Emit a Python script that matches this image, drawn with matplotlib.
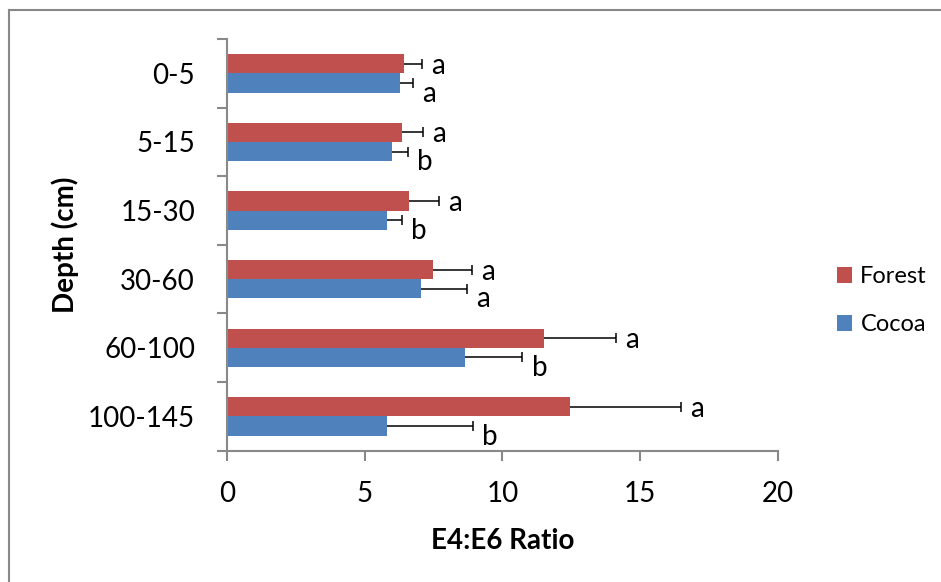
import matplotlib
matplotlib.use('Agg')
import matplotlib.pyplot as plt
import numpy as np
from matplotlib.lines import Line2D
from matplotlib.ticker import FixedLocator

# ---- data ----
depths = ['0-5', '5-15', '15-30', '30-60', '60-100', '100-145']
forest = [6.45, 6.37, 6.63, 7.49, 11.51, 12.46]
forest_err = [0.64, 0.75, 1.08, 1.42, 2.63, 4.02]
cocoa = [6.28, 6.00, 5.83, 7.05, 8.63, 5.82]
cocoa_err = [0.49, 0.56, 0.53, 1.67, 2.10, 3.10]
forest_sig = ['a', 'a', 'a', 'a', 'a', 'a']
cocoa_sig = ['a', 'b', 'b', 'a', 'b', 'b']
xticks = [0, 5, 10, 15, 20]

plt.rcParams['font.family'] = ['Lato', 'DejaVu Sans']

W, H = 941, 582
fig = plt.figure(figsize=(W / 100, H / 100), dpi=100)
ax = fig.add_axes([226.7 / W, 1 - 450.7 / H, (778 - 226.7) / W, 411.7 / H])

FOREST_C = '#C0504D'
COCOA_C = '#4F81BD'
GRAY = '#898989'

y = np.arange(len(depths))
h = 0.28
yf = y - h / 2
yc = y + h / 2
ax.barh(yf, forest, height=h, color=FOREST_C, label='Forest')
ax.barh(yc, cocoa, height=h, color=COCOA_C, label='Cocoa')

# plus-direction error bars
for yy, vals, errs in [(yf, forest, forest_err), (yc, cocoa, cocoa_err)]:
    ends = np.array(vals) + np.array(errs)
    ax.hlines(yy, vals, ends, color='black', lw=1.1, zorder=3)
    ax.plot(ends, yy, ls='none', marker='|', ms=7.2, mew=1.1, color='black', zorder=3)

# significance letters
for yy, vals, errs, sig, dy in [(yf, forest, forest_err, forest_sig, -7.2),
                                (yc, cocoa, cocoa_err, cocoa_sig, -13.4)]:
    for yi, v, e, s in zip(yy, vals, errs, sig):
        ax.annotate(s, (v + e, yi), xytext=(6.5, dy), textcoords='offset points',
                    ha='left', va='baseline', fontsize=20, color='black')

ax.set_xlim(0, 20)
ax.set_ylim(len(depths) - 0.5, -0.5)
ax.set_xticks(xticks)
ax.set_yticks(y)
ax.set_yticklabels(depths)
ax.yaxis.set_minor_locator(FixedLocator(np.arange(-0.5, len(depths), 1.0)))

for s in ['top', 'right']:
    ax.spines[s].set_visible(False)
for s in ['left', 'bottom']:
    ax.spines[s].set_color(GRAY)
    ax.spines[s].set_linewidth(1.5)

ax.tick_params(axis='x', which='major', direction='out', length=7, width=1.5,
               color=GRAY, labelsize=20, pad=14.5, labelcolor='black')
ax.tick_params(axis='y', which='major', length=0, labelsize=20, pad=22.8,
               labelcolor='black')
ax.tick_params(axis='y', which='minor', direction='out', length=7.5, width=1.5,
               color=GRAY)

ax.set_xlabel('E4:E6 Ratio', fontsize=20, fontweight='bold')
ax.xaxis.set_label_coords(0.5, -0.219)
ax.xaxis.label.set_va('center')
ax.set_ylabel('Depth (cm)', fontsize=20, fontweight='bold')
ax.yaxis.set_label_coords(-0.293, 0.5)
ax.yaxis.label.set_va('center')

leg = ax.legend(loc='center left', bbox_to_anchor=(837 / W, 1 - 300.5 / H),
                bbox_transform=fig.transFigure, frameon=False, fontsize=17,
                handlelength=0.65, handleheight=0.65, handletextpad=0.34,
                labelspacing=1.15, borderpad=0, borderaxespad=0)

# outer chart border (left and top visible)
fig.add_artist(Line2D([9 / W, 9 / W], [0, 1 - 10 / H], transform=fig.transFigure,
                      color='#888888', lw=1.5))
fig.add_artist(Line2D([9 / W, 1], [1 - 10 / H, 1 - 10 / H], transform=fig.transFigure,
                      color='#888888', lw=1.5))

fig.savefig('out.png', dpi=100)
